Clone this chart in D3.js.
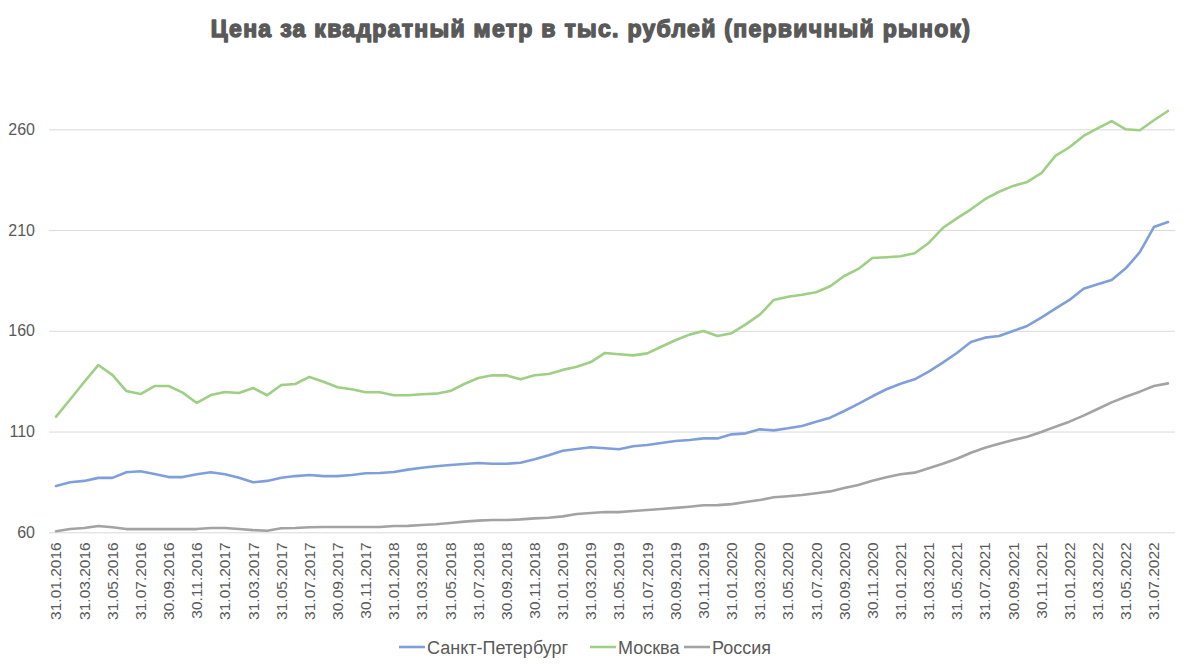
<!DOCTYPE html>
<html>
<head>
<meta charset="utf-8">
<script src="https://cdn.jsdelivr.net/npm/d3@7"></script>
<style>
  html, body { margin: 0; padding: 0; background: #fff; }
  svg { display: block; }
</style>
</head>
<body>
<svg id="chart" width="1191" height="665"></svg>
<script>
// ---- data ----
const startYear = 2016;
const months = d3.range(80).map(i => {
  const y = startYear + Math.floor(i / 12);
  const m = i % 12;
  const last = new Date(y, m + 1, 0).getDate();
  return String(last).padStart(2, "0") + "." + String(m + 1).padStart(2, "0") + "." + y;
});

const spb = [83.0, 84.8, 85.5, 87.0, 87.0, 89.8, 90.3, 88.9, 87.4, 87.4, 88.8, 89.8, 88.8, 87.1,
  84.8, 85.5, 87.1, 87.9, 88.4, 87.9, 87.9, 88.4, 89.3, 89.4, 89.9, 91.1, 92.0, 92.8,
  93.4, 93.9, 94.4, 94.0, 94.0, 94.5, 96.2, 98.2, 100.5, 101.3, 102.2, 101.7, 101.2, 102.7,
  103.3, 104.3, 105.3, 105.8, 106.6, 106.6, 108.6, 109.1, 111.1, 110.6, 111.6, 112.8, 114.9, 116.9,
  120.2, 123.7, 127.5, 131.0, 133.7, 135.9, 139.7, 144.2, 149.0, 154.4, 156.6, 157.4, 159.9, 162.4,
  166.5, 171.0, 175.3, 180.9, 183.1, 185.2, 191.0, 199.0, 211.5, 214.0];

const moscow = [117.4, 125.9, 134.6, 143.0, 138.1, 130.1, 128.6, 132.6, 132.6, 129.3, 124.2, 128.1, 129.6, 129.1,
  131.6, 128.0, 133.1, 133.6, 137.1, 134.7, 132.0, 131.0, 129.5, 129.5, 128.0, 128.0, 128.5, 128.8,
  130.1, 133.6, 136.6, 137.9, 137.9, 135.9, 137.9, 138.6, 140.6, 142.2, 144.5, 149.0, 148.4, 147.8,
  148.8, 152.1, 155.3, 158.1, 159.9, 157.4, 158.8, 163.2, 168.0, 175.3, 176.9, 177.9, 179.1, 182.1,
  187.2, 190.7, 196.1, 196.5, 197.0, 198.5, 203.6, 211.0, 215.8, 220.3, 225.3, 229.0, 231.9, 233.9,
  238.2, 246.8, 251.1, 256.7, 260.5, 264.1, 260.0, 259.5, 264.5, 269.1];

const russia = [60.5, 61.6, 62.1, 63.1, 62.5, 61.6, 61.6, 61.6, 61.6, 61.6, 61.6, 62.1, 62.1, 61.6,
  61.1, 60.8, 62.0, 62.1, 62.5, 62.6, 62.6, 62.6, 62.6, 62.6, 63.1, 63.2, 63.6, 64.0,
  64.6, 65.3, 65.8, 66.1, 66.1, 66.4, 66.9, 67.2, 67.9, 69.1, 69.6, 70.1, 70.0, 70.6,
  71.1, 71.6, 72.1, 72.7, 73.4, 73.5, 74.0, 75.0, 76.0, 77.4, 77.9, 78.5, 79.4, 80.3,
  82.0, 83.5, 85.6, 87.3, 88.8, 89.6, 91.8, 94.0, 96.5, 99.5, 102.0, 104.0, 105.8, 107.4,
  109.8, 112.4, 114.9, 117.9, 121.2, 124.5, 127.3, 129.8, 132.6, 133.9];

const seriesNames = ["Санкт-Петербург", "Москва", "Россия"];
const seriesColors = ["#7F9FDB", "#9DCF84", "#A3A3A3"];
const yTicks = [60, 110, 160, 210, 260];
const title = "Цена за квадратный метр в тыс. рублей (первичный рынок)";

// ---- layout ----
const svg = d3.select("#chart");
const plot = { left: 49, right: 1175, top: 89, bottom: 532.3 };

const x = d3.scaleBand().domain(months).range([plot.left, plot.right]).padding(0);
const y = d3.scaleLinear().domain([60, 280]).range([plot.bottom, plot.top]);
const cx = d => x(d) + x.bandwidth() / 2;

const font = "'Liberation Sans', Arial, sans-serif";
const textColor = "#595959";

// title
svg.append("text")
  .attr("x", 591).attr("y", 37)
  .attr("text-anchor", "middle")
  .attr("font-family", font)
  .attr("font-weight", "bold")
  .attr("font-size", 23)
  .attr("letter-spacing", 1.3)
  .attr("fill", textColor)
  .attr("stroke", textColor).attr("stroke-width", 1.4)
  .attr("stroke-linejoin", "round")
  .text(title);

// gridlines
const yAxis = d3.axisLeft(y).tickValues(yTicks).tickSize(-(plot.right - plot.left)).tickPadding(14);
const gy = svg.append("g").attr("transform", `translate(${plot.left},0)`).call(yAxis);
gy.select(".domain").remove();
gy.selectAll(".tick line").attr("stroke", "#D9D9D9").attr("stroke-width", 1);
gy.selectAll(".tick text")
  .attr("font-family", font).attr("font-size", 16).attr("fill", textColor);

// x axis labels
const xLabels = months.filter((d, i) => i % 2 === 0);
const xAxis = d3.axisBottom(x).tickValues(xLabels).tickSize(0).tickPadding(0);
const gx = svg.append("g").attr("transform", `translate(0,${plot.bottom})`).call(xAxis);
gx.select(".domain").remove();
gx.selectAll(".tick text")
  .attr("font-family", font).attr("font-size", 15.5).attr("fill", textColor)
  .attr("text-anchor", "end")
  .attr("dy", "0.35em")
  .attr("transform", "translate(0,10) rotate(-90)")
  .attr("x", 0).attr("y", 0);

// lines
const allSeries = [spb, moscow, russia];
const line = d3.line().x((d, i) => cx(months[i])).y(d => y(d));
allSeries.forEach((s, k) => {
  svg.append("path")
    .datum(s)
    .attr("fill", "none")
    .attr("stroke", seriesColors[k])
    .attr("stroke-width", 2.6)
    .attr("stroke-linejoin", "round")
    .attr("stroke-linecap", "round")
    .attr("d", line);
});

// legend
const legendX = [399, 590, 684];
const lg = svg.append("g");
seriesNames.forEach((n, k) => {
  lg.append("line")
    .attr("x1", legendX[k]).attr("x2", legendX[k] + 26)
    .attr("y1", 647).attr("y2", 647)
    .attr("stroke", seriesColors[k]).attr("stroke-width", 2.6);
  lg.append("text")
    .attr("x", legendX[k] + 28).attr("y", 653.5)
    .attr("font-family", font).attr("font-size", 18).attr("fill", textColor)
    .text(n);
});
</script>
</body>
</html>
